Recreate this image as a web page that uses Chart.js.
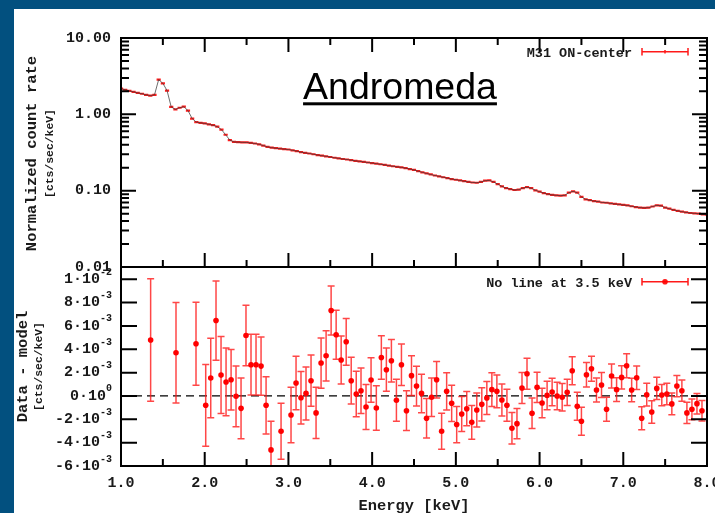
<!DOCTYPE html>
<html><head><meta charset="utf-8">
<script src="https://cdn.jsdelivr.net/npm/chart.js@4.4.1/dist/chart.umd.min.js"></script>
<style>
html,body{margin:0;padding:0;background:#02507f;overflow:hidden;}
#wrap{position:relative;width:715px;height:513px;}
canvas{display:block;}
</style></head><body>
<div id="wrap"><canvas id="c" width="715" height="513"></canvas></div>
<script>
// ---------- DATA ----------
const specEnergy = [
 1.00,1.05,1.10,1.15,1.20,1.25,1.30,1.35,1.40,1.45,
 1.50,1.55,1.60,1.65,1.70,1.75,1.80,1.85,1.90,1.95,
 2.00,2.05,2.10,2.15,2.20,2.25,2.30,2.35,2.40,2.45,
 2.50,2.55,2.60,2.65,2.70,2.75,2.80,2.85,2.90,2.95,
 3.00,3.05,3.10,3.15,3.20,3.25,3.30,3.35,3.40,3.45,
 3.50,3.55,3.60,3.65,3.70,3.75,3.80,3.85,3.90,3.95,
 4.00,4.05,4.10,4.15,4.20,4.25,4.30,4.35,4.40,4.45,
 4.50,4.55,4.60,4.65,4.70,4.75,4.80,4.85,4.90,4.95,
 5.00,5.05,5.10,5.15,5.20,5.25,5.30,5.35,5.40,5.45,
 5.50,5.55,5.60,5.65,5.70,5.75,5.80,5.85,5.90,5.95,
 6.00,6.05,6.10,6.15,6.20,6.25,6.30,6.35,6.40,6.45,
 6.50,6.55,6.60,6.65,6.70,6.75,6.80,6.85,6.90,6.95,
 7.00,7.05,7.10,7.15,7.20,7.25,7.30,7.35,7.40,7.45,
 7.50,7.55,7.60,7.65,7.70,7.75,7.80,7.85,7.90,7.95,
 8.00];
const specRate = [
 2.17,2.10,2.03,1.97,1.91,1.86,1.80,1.76,1.80,2.85,
 2.55,2.05,1.25,1.16,1.22,1.26,1.12,0.88,0.79,0.775,
 0.76,0.74,0.72,0.69,0.63,0.54,0.46,0.435,0.432,0.43,
 0.428,0.422,0.415,0.405,0.39,0.375,0.366,0.36,0.355,0.35,
 0.346,0.338,0.33,0.32,0.313,0.307,0.30,0.293,0.287,0.282,
 0.276,0.27,0.265,0.26,0.256,0.251,0.246,0.242,0.238,0.234,
 0.23,0.226,0.222,0.218,0.213,0.209,0.205,0.202,0.197,0.192,
 0.187,0.180,0.174,0.168,0.163,0.158,0.154,0.150,0.146,0.142,
 0.139,0.136,0.133,0.130,0.128,0.127,0.130,0.135,0.136,0.130,
 0.122,0.114,0.108,0.105,0.102,0.103,0.108,0.111,0.108,0.101,
 0.097,0.093,0.090,0.088,0.087,0.086,0.087,0.094,0.098,0.094,
 0.083,0.077,0.075,0.073,0.072,0.070,0.0695,0.068,0.067,0.066,
 0.065,0.064,0.0625,0.061,0.060,0.0595,0.0598,0.062,0.0643,0.0635,
 0.060,0.058,0.056,0.0545,0.053,0.052,0.051,0.0505,0.050,0.049,
 0.0485];
// residuals (units of 1e-3 cts/sec/keV)
const resEnergy = [
 1.354,1.657,1.896,2.012,2.072,2.135,2.195,2.255,2.315,2.374,
 2.434,2.493,2.553,2.613,2.673,2.733,2.792,2.912,3.031,3.091,
 3.150,3.210,3.270,3.330,3.390,3.450,3.510,3.570,3.630,3.690,
 3.750,3.810,3.867,3.927,3.987,4.050,4.110,4.170,4.230,4.290,
 4.350,4.410,4.470,4.530,4.590,4.650,4.710,4.770,4.830,4.890,
 4.950,5.010,5.070,5.130,5.190,5.250,5.310,5.370,5.430,5.490,
 5.550,5.610,5.670,5.730,5.790,5.850,5.910,5.970,6.030,6.090,
 6.150,6.210,6.270,6.330,6.390,6.450,6.500,6.560,6.620,6.680,
 6.740,6.800,6.860,6.920,6.980,7.040,7.100,7.160,7.220,7.280,
 7.340,7.400,7.460,7.520,7.580,7.640,7.700,7.760,7.820,7.880,
 7.940];
const resValue = [
 4.79,3.70,4.47,-0.80,1.54,6.46,1.79,1.20,1.39,-0.03,
 -1.06,5.18,2.68,2.68,2.56,-0.80,-4.62,-3.02,-1.63,1.11,
 -0.15,0.22,1.31,-1.45,2.82,3.44,7.32,5.24,3.08,4.64,
 1.31,0.17,0.45,-0.94,1.37,-1.03,3.30,2.25,3.02,-0.37,
 2.68,-1.26,1.74,0.85,0.22,-1.91,-0.11,1.39,-3.02,0.40,
 -0.63,-2.45,-1.54,-1.09,-2.26,-1.20,-0.72,-0.17,0.54,0.40,
 -0.34,-0.80,-2.77,-2.37,0.68,1.91,-1.48,0.74,-0.60,0.05,
 0.34,0.00,-0.11,0.31,2.16,-0.89,-2.17,1.82,2.33,0.51,
 0.94,-1.14,1.71,0.54,1.59,2.59,0.51,1.56,-1.91,0.11,
 -1.37,0.65,0.08,0.17,-0.68,0.85,0.45,-1.45,-1.14,-0.66,
 -1.26];
const resError = [
 5.25,4.30,3.55,3.50,3.40,3.40,3.30,2.90,2.60,2.60,
 2.60,2.60,2.60,2.60,2.50,2.45,2.45,2.40,2.37,2.30,
 2.25,2.27,2.20,2.20,2.15,2.15,2.10,2.10,2.05,2.00,
 2.00,1.95,1.95,1.93,1.90,1.90,1.87,1.85,1.82,1.80,
 1.78,1.70,1.70,1.70,1.65,1.70,1.65,1.57,1.55,1.60,
 1.55,1.55,1.50,1.47,1.45,1.45,1.42,1.42,1.45,1.40,
 1.37,1.37,1.35,1.30,1.33,1.33,1.30,1.30,1.27,1.22,
 1.17,1.17,1.17,1.13,1.20,1.20,1.20,1.05,1.07,1.03,
 1.07,1.02,1.03,1.02,1.00,1.03,1.00,1.00,0.98,0.97,
 0.97,0.96,0.91,0.92,0.93,0.91,0.91,0.91,0.89,0.88,
 0.88];
const xTickValues = [1,2,3,4,5,6,7,8];
const xMinorValues = [1.5,2.5,3.5,4.5,5.5,6.5,7.5];
const specTickValues = [0.01,0.1,1,10];
const specMinorValues = [0.02,0.03,0.04,0.05,0.06,0.07,0.08,0.09,0.2,0.3,0.4,0.5,0.6,0.7,0.8,0.9,2,3,4,5,6,7,8,9];
const resTickValues = [-6,-4,-2,0,2,4,6,8,10];
const resTickMant = ['-6','-4','-2','0','2','4','6','8','1'];
const resTickExp  = ['-3','-3','-3','0','-3','-3','-3','-3','-2'];

// ---------- STYLE ----------
const MONO = "'Liberation Mono','DejaVu Sans Mono','Courier New',monospace";
const SPEC_HALF_BIN = 0.025;
const SPEC_REL_ERR = 0.03;
const RED = 'rgba(255,0,0,0.9)';
const RED_BAR = 'rgba(255,25,25,0.8)';

const decor = {
  id: 'decor',
  beforeDraw(chart) {
    const ctx = chart.ctx;
    ctx.save();
    ctx.fillStyle = '#ffffff';
    ctx.fillRect(14, 9, 715 - 14, 513 - 9);
    ctx.restore();
  },
  beforeDatasetsDraw(chart) {
    const {ctx, scales: {x, ys, yr}} = chart;
    ctx.save();
    ctx.beginPath(); ctx.rect(x.left, ys.top, x.right - x.left, ys.bottom - ys.top); ctx.clip();
    ctx.strokeStyle = RED; ctx.lineWidth = 2.2;
    ctx.beginPath();
    for (let i = 0; i < specEnergy.length; i++) {
      const e = specEnergy[i], v = specRate[i];
      const x0 = x.getPixelForValue(e - SPEC_HALF_BIN), x1 = x.getPixelForValue(e + SPEC_HALF_BIN);
      const xc = x.getPixelForValue(e);
      const y = ys.getPixelForValue(v);
      ctx.moveTo(x0, y); ctx.lineTo(x1, y);
      ctx.moveTo(xc, ys.getPixelForValue(v * (1 - SPEC_REL_ERR)));
      ctx.lineTo(xc, ys.getPixelForValue(v * (1 + SPEC_REL_ERR)));
    }
    ctx.stroke();
    ctx.restore();
    ctx.save();
    ctx.beginPath(); ctx.rect(x.left, yr.top, x.right - x.left, yr.bottom - yr.top); ctx.clip();
    const y0 = yr.getPixelForValue(0);
    ctx.strokeStyle = '#000'; ctx.lineWidth = 1.3; ctx.setLineDash([8, 5]);
    ctx.beginPath(); ctx.moveTo(x.left, y0); ctx.lineTo(x.right, y0); ctx.stroke();
    ctx.setLineDash([]);
    ctx.strokeStyle = RED_BAR; ctx.lineWidth = 1.5;
    ctx.beginPath();
    for (let i = 0; i < resEnergy.length; i++) {
      const xc = x.getPixelForValue(resEnergy[i]);
      const yt = yr.getPixelForValue(resValue[i] + resError[i]);
      const yb = yr.getPixelForValue(resValue[i] - resError[i]);
      ctx.moveTo(xc, yt); ctx.lineTo(xc, yb);
      ctx.moveTo(xc - 3.5, yt); ctx.lineTo(xc + 3.5, yt);
      ctx.moveTo(xc - 3.5, yb); ctx.lineTo(xc + 3.5, yb);
    }
    ctx.stroke();
    ctx.restore();
  },
  afterDraw(chart) {
    const {ctx, scales: {x, ys, yr}} = chart;
    const L = x.left, R = x.right;
    ctx.save();
    ctx.strokeStyle = '#000';
    ctx.lineWidth = 2;
    ctx.strokeRect(L, ys.top, R - L, ys.bottom - ys.top);
    ctx.strokeRect(L, yr.top, R - L, yr.bottom - yr.top);
    const seg = (a, b, c, d) => { ctx.moveTo(a, b); ctx.lineTo(c, d); };
    ctx.beginPath();
    specTickValues.forEach(v => { const y = ys.getPixelForValue(v); seg(L, y, L + 15, y); seg(R - 15, y, R, y); });
    specMinorValues.forEach(v => { const y = ys.getPixelForValue(v); seg(L, y, L + 8, y); seg(R - 8, y, R, y); });
    xTickValues.forEach(v => { const px = x.getPixelForValue(v);
      seg(px, ys.top, px, ys.top + 14); seg(px, ys.bottom, px, ys.bottom - 14); seg(px, yr.bottom, px, yr.bottom - 14); });
    xMinorValues.forEach(v => { const px = x.getPixelForValue(v);
      seg(px, ys.top, px, ys.top + 7); seg(px, ys.bottom, px, ys.bottom - 7); seg(px, yr.bottom, px, yr.bottom - 7); });
    resTickValues.forEach(v => { const y = yr.getPixelForValue(v); seg(L, y, L + 16, y); seg(R - 16, y, R, y); });
    ctx.stroke();

    ctx.fillStyle = '#1a1a1a';
    ctx.textBaseline = 'middle';
    const rightEdge = L - 9;
    resTickValues.forEach((v, i) => {
      const y = yr.getPixelForValue(v);
      ctx.font = 'bold 10px ' + MONO;
      const supW = ctx.measureText(resTickExp[i]).width;
      ctx.textAlign = 'right';
      ctx.fillText(resTickExp[i], rightEdge, y - 7);
      ctx.font = 'bold 15px ' + MONO;
      ctx.fillText(resTickMant[i] + '·10', rightEdge - supW, y);
    });

    const vText = (t, cx, cy, font) => {
      ctx.save(); ctx.translate(cx, cy); ctx.rotate(-Math.PI / 2);
      ctx.font = font; ctx.textAlign = 'center'; ctx.textBaseline = 'middle';
      ctx.fillText(t, 0, 0); ctx.restore();
    };
    ctx.fillStyle = '#1a1a1a';
    vText('Normalized count rate', 32, (ys.top + ys.bottom) / 2 + 1, 'bold 15.5px ' + MONO);
    vText('[cts/sec/keV]', 50, (ys.top + ys.bottom) / 2 + 1, 'bold 11.4px ' + MONO);
    vText('Data - model', 23, (yr.top + yr.bottom) / 2, 'bold 15.5px ' + MONO);
    vText('[cts/sec/keV]', 39, (yr.top + yr.bottom) / 2, 'bold 11.4px ' + MONO);
    ctx.font = 'bold 15.4px ' + MONO; ctx.textAlign = 'center'; ctx.textBaseline = 'middle';
    ctx.fillText('Energy [keV]', (L + R) / 2, 506);

    ctx.font = 'bold 13.5px ' + MONO; ctx.textAlign = 'right'; ctx.textBaseline = 'middle';
    ctx.fillText('M31 ON-center', 632, 54);
    ctx.fillText('No line at 3.5 keV', 632, 284);
    ctx.strokeStyle = RED; ctx.lineWidth = 1.5;
    ctx.beginPath();
    seg(642, 51.7, 688, 51.7); seg(642, 48, 642, 55.4); seg(688, 48, 688, 55.4); seg(665, 50, 665, 53.4);
    seg(642, 281.7, 688, 281.7); seg(642, 278, 642, 285.4); seg(688, 278, 688, 285.4);
    ctx.stroke();
    ctx.fillStyle = RED;
    ctx.beginPath(); ctx.arc(665, 281.7, 2.8, 0, Math.PI * 2); ctx.fill();

    ctx.fillStyle = '#000';
    ctx.font = '37.5px "Liberation Sans", Arial, sans-serif';
    ctx.textAlign = 'center'; ctx.textBaseline = 'alphabetic';
    ctx.fillText('Andromeda', 400, 99);
    const w = ctx.measureText('Andromeda').width;
    ctx.fillRect(400 - w / 2, 102.3, w, 3);
    ctx.restore();
  }
};

const fixY = (scale) => { scale.width = 121; scale.paddingTop = 0; scale.paddingBottom = 0; scale.paddingLeft = 0; scale.paddingRight = 0; };

new Chart(document.getElementById('c'), {
  data: {
    datasets: [
      {
        type: 'line', label: 'model',
        data: specEnergy.map((e, i) => ({x: e, y: specRate[i]})),
        yAxisID: 'ys', borderColor: 'rgba(60,60,60,0.75)', borderWidth: 1,
        pointRadius: 0, tension: 0, fill: false
      },
      {
        type: 'scatter', label: 'No line at 3.5 keV',
        data: resEnergy.map((e, i) => ({x: e, y: resValue[i]})),
        yAxisID: 'yr', pointRadius: 2.8, pointHoverRadius: 2.8,
        backgroundColor: '#ff0000', borderWidth: 0
      }
    ]
  },
  options: {
    responsive: false, animation: false, devicePixelRatio: 1,
    layout: {padding: {left: 0, top: 38, right: 8, bottom: 0}},
    plugins: {legend: {display: false}, tooltip: {enabled: false}, title: {display: false}},
    scales: {
      x: {
        type: 'linear', position: 'bottom', min: 1, max: 8,
        grid: {display: false, drawTicks: false}, border: {display: false},
        afterBuildTicks: (s) => { s.ticks = xTickValues.map(v => ({value: v})); },
        ticks: {autoSkip: false, maxRotation: 0, padding: 8, color: '#1a1a1a',
          font: {family: MONO, size: 15, weight: 'bold'},
          callback: (v) => Number(v).toFixed(1)},
        afterFit: (s) => { s.height = 47; s.paddingLeft = 0; s.paddingRight = 0; }
      },
      yr: {
        type: 'linear', position: 'left', stack: 'panels', stackWeight: 199,
        min: -6, max: 11.05,
        grid: {display: false, drawTicks: false}, border: {display: false},
        ticks: {display: false},
        afterFit: fixY
      },
      ys: {
        type: 'logarithmic', position: 'left', stack: 'panels', stackWeight: 229,
        min: 0.01, max: 10,
        grid: {display: false, drawTicks: false}, border: {display: false},
        afterBuildTicks: (s) => { s.ticks = specTickValues.map(v => ({value: v})); },
        ticks: {autoSkip: false, padding: 10, color: '#1a1a1a',
          font: {family: MONO, size: 15, weight: 'bold'},
          callback: (v) => Number(v).toFixed(2)},
        afterFit: fixY
      }
    }
  },
  plugins: [decor]
});
</script>
</body></html>
